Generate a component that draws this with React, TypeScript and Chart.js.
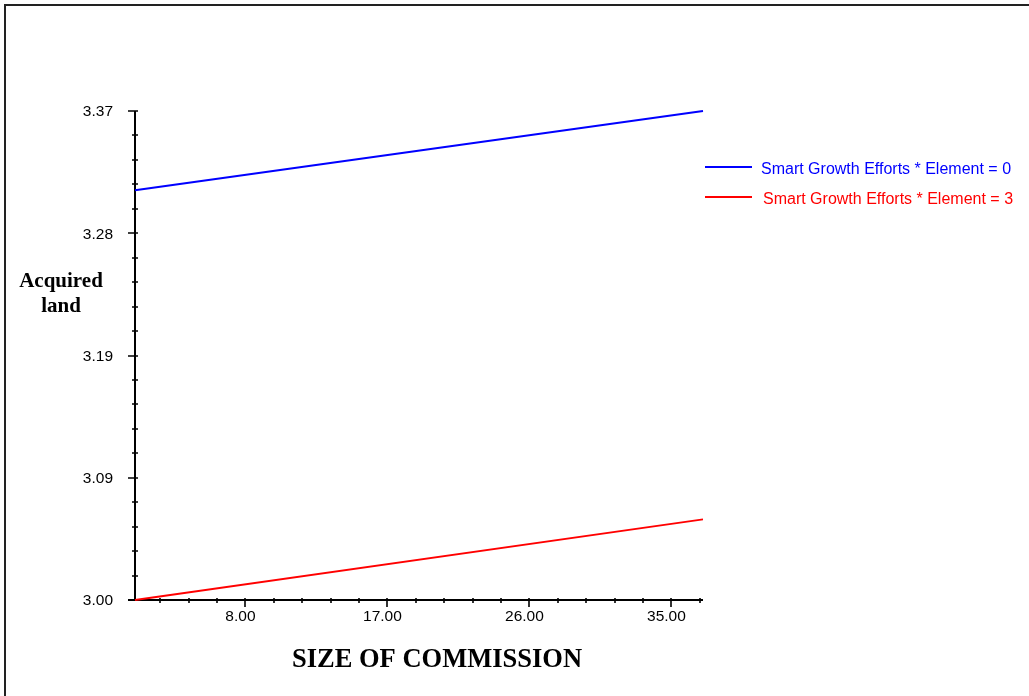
import React, { useEffect, useRef } from 'react';
import { Chart, registerables } from 'chart.js';

Chart.register(...registerables);

// ---- data ----
const xValues = [1, 37];
const blueValues = [3.31, 3.37];
const redValues = [3.0, 3.061];
const seriesLabels = ['Smart Growth Efforts * Element = 0', 'Smart Growth Efforts * Element = 3'];
const seriesColors = ['#0000ff', '#ff0000'];

const xMin = 1;
const xMax = 37;
const xTickValues = [8, 17, 26, 35];
const xTickLabels = ['8.00', '17.00', '26.00', '35.00'];

const yMin = 3.0;
const yMax = 3.37;
const yTickValues = [3.0, 3.0925, 3.185, 3.2775, 3.37];
const yTickLabels = ['3.00', '3.09', '3.19', '3.28', '3.37'];

const xTitle = 'SIZE OF COMMISSION';
const yTitleLines = ['Acquired', 'land'];

const MINOR_DIV = 5;

function minorValues(majors: number[], min: number, max: number): number[] {
  const step = (majors[1] - majors[0]) / MINOR_DIV;
  const out: number[] = [];
  let v = majors[0];
  while (v - step >= min - 1e-9) v -= step;
  for (; v <= max + 1e-9; v += step) {
    if (!majors.some((m) => Math.abs(m - v) < 1e-6)) out.push(v);
  }
  return out;
}

const axesPlugin = {
  id: 'customAxes',
  beforeDatasetsDraw(chart: any) {
    const { ctx, scales } = chart;
    const xs = scales.x;
    const ys = scales.y;
    const ax = xs.left;
    const ay = ys.bottom;
    ctx.save();
    ctx.strokeStyle = '#000';
    ctx.fillStyle = '#000';

    // axis lines
    ctx.lineWidth = 2;
    ctx.beginPath();
    ctx.moveTo(ax, ys.top);
    ctx.lineTo(ax, ay);
    ctx.moveTo(ax - 7, ay);
    ctx.lineTo(xs.right, ay);
    ctx.stroke();

    // y ticks
    ctx.lineWidth = 1.6;
    ctx.beginPath();
    yTickValues.forEach((v) => {
      const py = Math.round(ys.getPixelForValue(v));
      ctx.moveTo(ax - 7, py);
      ctx.lineTo(ax + 3, py);
    });
    minorValues(yTickValues, yMin, yMax).forEach((v) => {
      const py = Math.round(ys.getPixelForValue(v));
      ctx.moveTo(ax - 3, py);
      ctx.lineTo(ax + 3, py);
    });
    // x ticks
    xTickValues.forEach((v) => {
      const px = Math.round(xs.getPixelForValue(v));
      ctx.moveTo(px, ay - 2);
      ctx.lineTo(px, ay + 7);
    });
    minorValues(xTickValues, xMin, xMax).forEach((v) => {
      const px = Math.round(xs.getPixelForValue(v));
      ctx.moveTo(px, ay - 2);
      ctx.lineTo(px, ay + 3);
    });
    ctx.stroke();

    // tick labels
    ctx.font = '15.5px "Liberation Sans", Arial, sans-serif';
    ctx.textAlign = 'right';
    ctx.textBaseline = 'middle';
    yTickValues.forEach((v, i) => {
      ctx.fillText(yTickLabels[i], ax - 22, ys.getPixelForValue(v) + 1);
    });
    ctx.textAlign = 'center';
    ctx.textBaseline = 'alphabetic';
    xTickValues.forEach((v, i) => {
      ctx.fillText(xTickLabels[i], xs.getPixelForValue(v) - 5, ay + 21);
    });

    // axis titles
    ctx.font = 'bold 21px "Liberation Serif", "Times New Roman", serif';
    ctx.textAlign = 'center';
    yTitleLines.forEach((t, i) => {
      ctx.fillText(t, ax - 74, ys.top + 176 + i * 25);
    });
    ctx.font = 'bold 26.5px "Liberation Serif", "Times New Roman", serif';
    ctx.fillText(xTitle, (xs.left + xs.right) / 2 + 18, ay + 67);

    // legend
    ctx.font = '16px "Liberation Sans", Arial, sans-serif';
    ctx.textAlign = 'left';
    ctx.textBaseline = 'middle';
    chart.data.datasets.forEach((ds: any, i: number) => {
      const ly = ys.top + 56 + i * 30;
      ctx.strokeStyle = ds.borderColor;
      ctx.lineWidth = 2;
      ctx.beginPath();
      ctx.moveTo(xs.right + 2, ly);
      ctx.lineTo(xs.right + 49, ly);
      ctx.stroke();
      ctx.fillStyle = ds.borderColor;
      ctx.fillText(ds.label, xs.right + 58 + i * 2, ly + 2.5);
    });
    ctx.restore();
  },
};

export default function App() {
  const canvasRef = useRef<HTMLCanvasElement | null>(null);

  useEffect(() => {
    const canvas = canvasRef.current;
    if (!canvas) return;
    const chart = new Chart(canvas, {
      type: 'scatter',
      data: {
        datasets: [
          {
            label: seriesLabels[0],
            data: xValues.map((x, i) => ({ x, y: blueValues[i] })),
            borderColor: seriesColors[0],
            backgroundColor: seriesColors[0],
            showLine: true,
            borderWidth: 2,
            pointRadius: 0,
            clip: false as any,
          },
          {
            label: seriesLabels[1],
            data: xValues.map((x, i) => ({ x, y: redValues[i] })),
            borderColor: seriesColors[1],
            backgroundColor: seriesColors[1],
            showLine: true,
            borderWidth: 2,
            pointRadius: 0,
            clip: false as any,
          },
        ],
      },
      options: {
        animation: false,
        responsive: false,
        layout: { padding: { left: 135, right: 326, top: 111, bottom: 96 } },
        scales: {
          x: { type: 'linear', min: xMin, max: xMax, display: false },
          y: { type: 'linear', min: yMin, max: yMax, display: false },
        },
        plugins: {
          legend: { display: false },
          tooltip: { enabled: false },
        },
      },
      plugins: [axesPlugin],
    });
    return () => chart.destroy();
  }, []);

  return (
    <div
      style={{
        position: 'fixed',
        left: 0,
        top: 0,
        width: 1029,
        height: 696,
        overflow: 'hidden',
        background: '#fff',
      }}
    >
      <div
        style={{
          position: 'absolute',
          left: 4,
          top: 4,
          width: 1100,
          height: 900,
          border: '2px solid #222',
          boxSizing: 'border-box',
        }}
      />
      <canvas
        ref={canvasRef}
        width={1029}
        height={696}
        style={{ position: 'absolute', left: 0, top: 0 }}
      />
    </div>
  );
}
